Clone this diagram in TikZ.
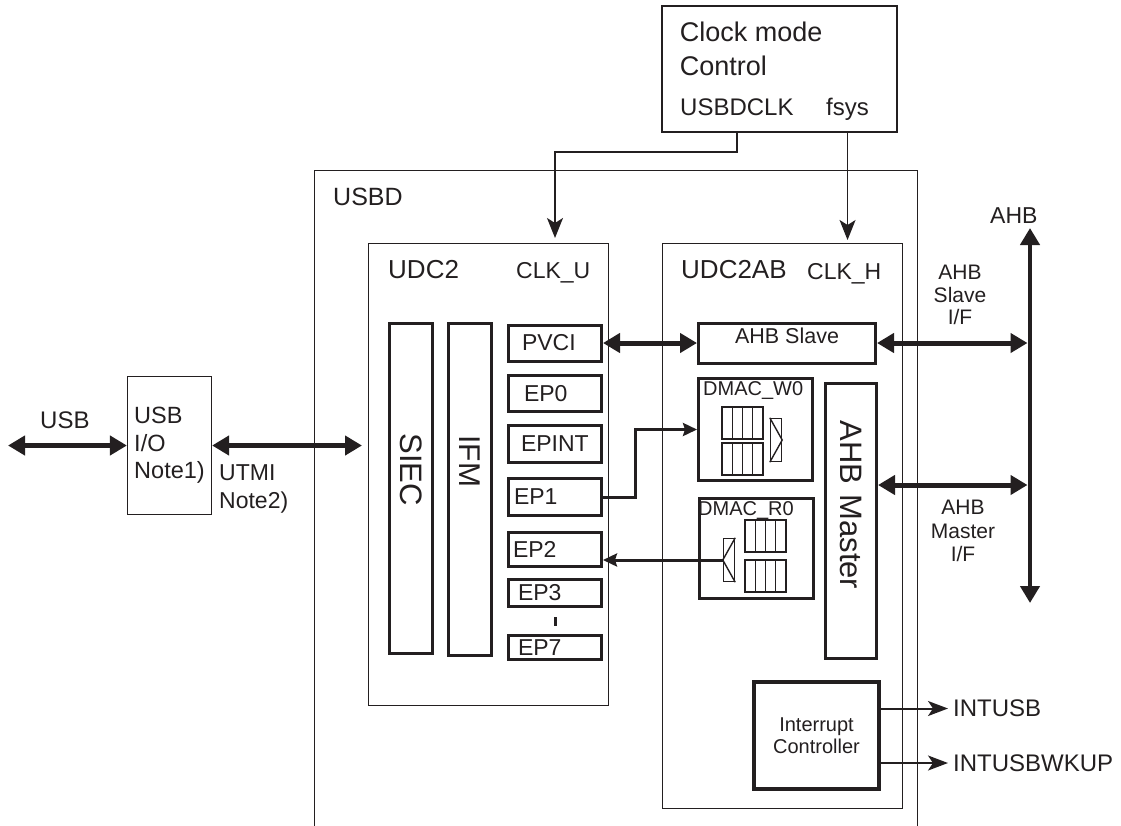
\documentclass[tikz,border=0pt]{standalone}
\usepackage{fontspec}
\setmainfont{Liberation Sans}
\usetikzlibrary{calc,arrows.meta}
\definecolor{ink}{HTML}{231F20}
\newcommand{\fsz}[2]{\fontsize{#1}{#2}\selectfont}

\begin{document}
\begin{tikzpicture}[x=1pt,y=-1pt,ink,>={Triangle[length=17pt,width=19pt]},
  thinbox/.style={draw,line width=1.2pt,inner sep=0pt},
  thickbox/.style={draw,line width=3pt,inner sep=0pt},
  txt/.style={inner sep=0pt},
  epbox/.style n args={3}{thickbox,minimum width=93pt,minimum height=#1,inner xsep=#2,text width=#3,align=left,font=\fsz{23}{27}},
  vbar/.style n args={3}{thickbox,rotate=-90,minimum width=#1,minimum height=43pt,inner xsep=#2,text width=#3,align=left,font=\fsz{31}{36}},
  fifo/.style={line width=1.4pt},
  bus/.style={<->,line width=5pt},
  eparrow/.style={-{Stealth[length=14pt,width=13pt,inset=2pt]},line width=3pt},
  clkline/.style={-{Stealth[length=20pt,width=16pt,inset=5pt]},line width=1.5pt},
  intline/.style={-{Stealth[length=20pt,width=15pt,inset=5pt]},line width=2pt}]
  \useasboundingbox (0,0) rectangle (1121,825);
  \clip (0,0) rectangle (1121,825);
  % Clock mode control
  \node[draw,line width=1.7pt,minimum width=235pt,minimum height=126pt] (clk) at (779.5,69) {};
  \node[txt,anchor=north west,align=left,font=\fsz{27}{34}] (clktitle) at ([xshift=18.5pt,yshift=-17pt]clk.north west) {Clock mode\\Control};
  \node[txt,anchor=base west,font=\fsz{24}{28}] (usbdclk) at (680,115) {USBDCLK};
  \node[txt,anchor=base west,font=\fsz{24}{28}] (fsys) at (826,115) {fsys};
  % USBD and its two blocks
  \node[thinbox,anchor=north west,minimum width=603pt,minimum height=720pt] (usbd) at (314,170) {};
  \node[txt,anchor=base west,font=\fsz{25}{30}] (usbdlbl) at (333,205) {USBD};
  \node[thinbox,anchor=north west,minimum width=240pt,minimum height=462pt] (udc2) at (368,243) {};
  \node[txt,anchor=base west,font=\fsz{26}{30}] (udc2lbl) at (388,278) {UDC2};
  \node[txt,anchor=base west,font=\fsz{23}{27}] (clku) at (516,278) {CLK\_U};
  \node[thinbox,anchor=north west,minimum width=240pt,minimum height=565pt] (udc2ab) at (662,243) {};
  \node[txt,anchor=base west,font=\fsz{26}{30}] (udc2ablbl) at (681,278) {UDC2AB};
  \node[txt,anchor=base west,font=\fsz{23}{27}] (clkh) at (807,279) {CLK\_H};
  % UDC2
  \node[vbar={330pt}{110pt}{110pt}] (siec) at (411,488.5) {SIEC};
  \node[vbar={332pt}{112pt}{108pt},font=\fsz{30}{36}] (ifm) at (470,489.5) {IFM};
  \node[epbox={36pt}{13.5pt}{66pt}] (pvci) at (555,343) {PVCI};
  \node[epbox={36pt}{15.5pt}{62pt}] (ep0) at (555,393.5) {EP0};
  \node[epbox={37pt}{12.5pt}{68pt}] (epint) at (555,444) {EPINT};
  \node[epbox={37pt}{5.5pt}{82pt}] (ep1) at (555,497) {EP1};
  \node[epbox={34pt}{4.5pt}{84pt}] (ep2) at (555,549.5) {EP2};
  \node[epbox={27pt}{9.5pt}{74pt}] (ep3) at (555,593) {EP3};
  \node[epbox={24pt}{9.5pt}{74pt}] (ep7) at (555,647.5) {EP7};
  \draw[line width=3pt] ($(ep3.south)!0.35!(ep7.north)$) -- ($(ep3.south)!0.7!(ep7.north)$);
  % UDC2AB
  \node[thickbox,minimum width=177pt,minimum height=40pt,text depth=14pt,font=\fsz{21.5}{26}] (ahbslv) at (787,343) {AHB Slave};
  \node[thickbox,minimum width=114pt,minimum height=102pt] (dmacw) at (755.5,429.5) {};
  \node[txt,anchor=base west,font=\fsz{20}{24}] (dmacwlbl) at (703,395) {DMAC\_W0};
  \node[thickbox,minimum width=114pt,minimum height=100pt] (dmacr) at (756.5,548.5) {};
  \node[txt,anchor=base west,font=\fsz{20}{24}] (dmacrlbl) at (698,515) {DMAC\_R0};
  % FIFO stages
  \foreach \fx/\fy in {722/407,722/443,745/520,745/560}{
    \draw[fifo] (\fx,\fy) rectangle ++(41,32);
    \foreach \k in {1,2,3} \draw[fifo] (\fx+10.25*\k,\fy) -- ++(0,32);
  }
  \node[draw,fifo,minimum width=11pt,minimum height=43pt,inner sep=0pt] (wrsel) at (776,440) {};
  \draw[fifo] (wrsel.north west) -- (wrsel.east) -- (wrsel.south west);
  \node[draw,fifo,minimum width=11pt,minimum height=43pt,inner sep=0pt] (rdsel) at (729,560) {};
  \draw[fifo] (rdsel.north east) -- (rdsel.west) -- (rdsel.south east);
  \node[vbar={275pt}{37pt}{201pt},minimum height=51pt] (ahbmst) at (851,521) {AHB Master};
  \node[draw,line width=3.5pt,inner sep=0pt,minimum width=125pt,minimum height=107pt,align=center,font=\fsz{20}{22}] (intc) at (816.5,735.5) {Interrupt\\Controller};
  % clocks
  \draw[clkline,shorten >=5pt] (clk.south -| usbdclk) -- ++(0,19) -| (udc2.north -| pvci);
  \draw[clkline,shorten >=3pt] (clk.south -| fsys) -- (udc2ab.north -| fsys);
  % USB side
  \node[thinbox,minimum width=84pt,minimum height=138pt,align=left,font=\fsz{23.5}{27.5}] (usbio) at (169.5,445.5) {USB\\I/O\\Note1)};
  \coordinate (usbend) at (8,445.5);
  \node[txt,anchor=base west,font=\fsz{24}{28}] (usblbl) at (40,428) {USB};
  \draw[bus] (usbend) -- (usbio.west);
  \draw[bus,shorten >=6pt] (usbio.east) -- (usbio.east -| udc2.west);
  \node[txt,anchor=north west,align=left,font=\fsz{23}{28}] (utmi) at (219,464) {UTMI\\Note2)};
  % data paths
  \draw[bus] (pvci.east) -- (ahbslv.west);
  \draw[eparrow] (ep1.east) -- ++(32,0) |- (dmacw.west);
  \draw[eparrow] (rdsel.west) -- (rdsel.west -| ep2.east);
  % AHB bus
  \node[txt,anchor=base west,font=\fsz{23}{27}] (ahblbl) at (990,223) {AHB};
  \coordinate (ahbtop) at (1030,228);
  \coordinate (ahbbot) at (1030,603);
  \draw[bus,line width=4.5pt] (ahbbot) -- (ahbtop);
  \draw[bus,shorten >=2.5pt] (ahbslv.east) -- (ahbslv.east -| ahbtop);
  \coordinate (mstport) at ([yshift=36pt]ahbmst.north);
  \draw[bus,shorten >=2.5pt] (mstport) -- (mstport -| ahbtop);
  \node[txt,anchor=north,align=center,font=\fsz{21}{22.5}] (slvif) at (960,265) {AHB\\Slave\\I/F};
  \node[txt,anchor=north,align=center,font=\fsz{21}{23.5}] (mstif) at (963,500) {AHB\\Master\\I/F};
  % interrupts
  \node[txt,anchor=west,font=\fsz{24}{28}] (intusb) at (953,708.5) {INTUSB};
  \node[txt,anchor=west,font=\fsz{24}{28}] (intwk) at (953,763) {INTUSBWKUP};
  \draw[intline,shorten >=5pt] (intusb.west -| intc.east) -- (intusb.west);
  \draw[intline,shorten >=5pt] (intwk.west -| intc.east) -- (intwk.west);
\end{tikzpicture}
\end{document}
